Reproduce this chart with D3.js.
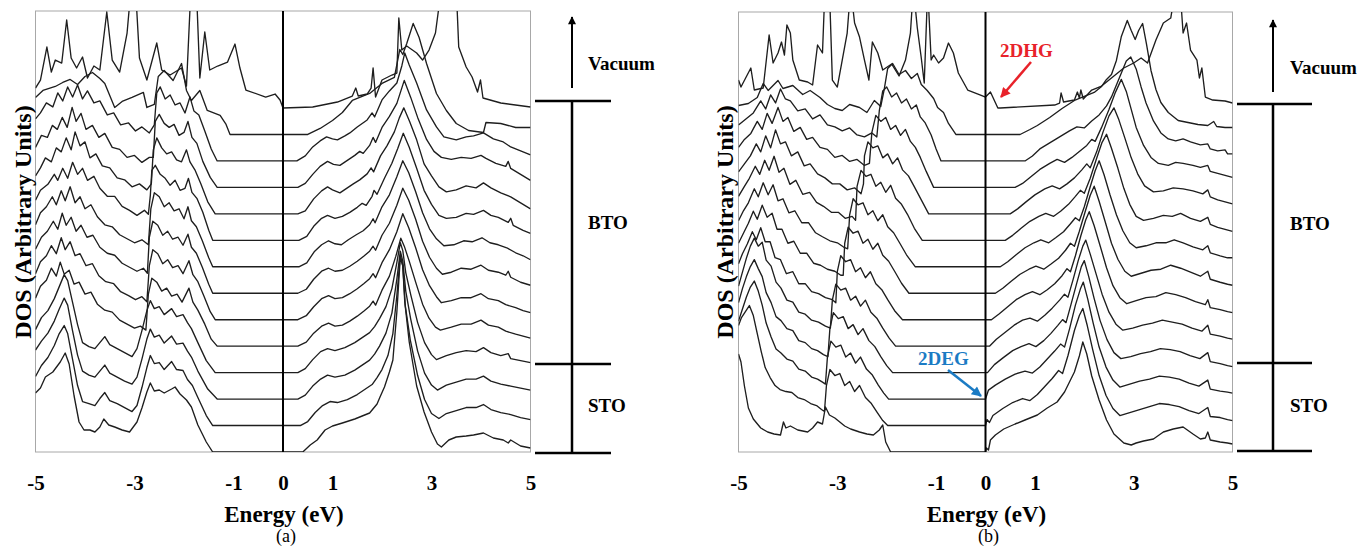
<!DOCTYPE html>
<html><head><meta charset="utf-8">
<script src="https://cdn.jsdelivr.net/npm/d3@7"></script>
<style>body{margin:0;background:#fff}svg{display:block}</style>
</head><body><svg id="c" width="1360" height="548"></svg>
<script>
// ---------------- DATA ----------------
const energyTicks = [-5, -3, -1, 0, 1, 3, 5];
const layerNames = ["Vacuum", "BTO", "STO"];
const panelNames = ["(a)", "(b)"];
const xTitle = "Energy (eV)";
const yTitle = "DOS (Arbitrary Units)";
const layerStep = 26.46;          // DOS offset between successive layers
const annotHole = "2DHG", annotElec = "2DEG";

// Panel (a): [energy eV, DOS] for each layer, top (vacuum) to bottom (STO)
const a0 = [[-5,20],[-4.9,28],[-4.77,61],[-4.68,36],[-4.6,48],[-4.47,45],[-4.37,88],[-4.28,50],[-4.17,40],[-4.05,51],[-3.95,30],[-3.82,42],[-3.7,38],[-3.56,96],[-3.45,48],[-3.3,36],[-3.15,75],[-3.07,120],[-2.98,120],[-2.9,50],[-2.75,28],[-2.55,65],[-2.45,38],[-2.28,33],[-2.05,40],[-1.95,22],[-1.86,120],[-1.75,120],[-1.68,30],[-1.58,76],[-1.48,38],[-1.32,42],[-1.12,46],[-0.97,64],[-0.87,40],[-0.75,18],[-0.35,11],[-0.16,14],[-0.06,8],[0,0],
 [0.6,1],[1.1,6],[1.4,12],[1.47,20],[1.52,12],[1.7,14],[1.78,20],[1.82,40],[1.87,11],[2.0,28],[2.2,33],[2.3,35],[2.34,90],[2.4,58],[2.5,62],[2.7,55],[2.82,48],[2.95,58],[3.08,75],[3.2,120],[3.5,120],[3.55,61],[3.7,41],[3.82,31],[3.93,16],[3.99,28],[4.04,10],[4.4,5],[5,1]];
const a1 = [[-5,37],[-4.85,44],[-4.6,48],[-4.45,52],[-4.3,55],[-4.15,50],[-4.0,58],[-3.85,62],[-3.7,56],[-3.6,51],[-3.4,27],[-3.25,33],[-3.05,37],[-2.82,42],[-2.75,27],[-2.6,30],[-2.52,58],[-2.4,64],[-2.22,54],[-2.05,71],[-1.95,44],[-1.85,34],[-1.68,44],[-1.53,24],[-1.27,19],[-1.15,10],[-1.07,0],
 [0.5,0],[0.75,6],[1.0,14],[1.2,22],[1.4,34],[1.6,38],[1.75,41],[2.0,51],[2.25,57],[2.36,85],[2.42,80],[2.5,91],[2.63,111],[2.75,97],[2.9,71],[3.1,41],[3.3,24],[3.5,11],[3.75,4],[4.05,2],[4.1,12],[4.4,11],[4.7,7],[5,7]];
const a2 = [[-5,42],[-4.9,48],[-4.78,58],[-4.65,54],[-4.55,68],[-4.45,60],[-4.35,74],[-4.25,64],[-4.15,76],[-4.05,62],[-3.95,70],[-3.82,58],[-3.7,60],[-3.55,46],[-3.42,48],[-3.28,36],[-3.12,38],[-2.98,30],[-2.85,34],[-2.7,28],[-2.6,36],[-2.55,68],[-2.48,74],[-2.38,62],[-2.28,66],[-2.18,56],[-2.08,58],[-1.98,48],[-1.88,64],[-1.8,50],[-1.7,46],[-1.58,30],[-1.45,12],[-1.33,0],
 [0.28,0],[0.45,5],[0.6,14],[0.75,20],[0.88,24],[1.0,22],[1.1,21],[1.25,25],[1.35,28],[1.5,34],[1.7,41],[1.8,48],[1.85,44],[2.0,61],[2.15,70],[2.3,78],[2.4,95],[2.46,108],[2.55,96],[2.7,78],[2.9,51],[3.1,34],[3.25,24],[3.5,21],[3.7,24],[3.85,25],[4.05,28],[4.25,22],[4.45,19],[4.6,14],[4.8,10],[5,6]];
const a3 = [[-5,40],[-4.88,52],[-4.76,50],[-4.66,62],[-4.56,58],[-4.46,70],[-4.36,60],[-4.26,80],[-4.18,66],[-4.08,74],[-3.98,58],[-3.85,62],[-3.72,50],[-3.6,54],[-3.45,40],[-3.3,38],[-3.15,30],[-3.0,32],[-2.85,25],[-2.7,30],[-2.62,30],[-2.58,66],[-2.5,73],[-2.4,64],[-2.3,60],[-2.2,63],[-2.1,52],[-2.0,55],[-1.92,66],[-1.84,50],[-1.74,44],[-1.62,26],[-1.47,10],[-1.33,0],
 [0.3,0],[0.45,4],[0.6,13],[0.75,21],[0.9,26],[1.02,23],[1.15,22],[1.3,27],[1.45,32],[1.55,36],[1.62,34],[1.75,42],[1.82,50],[1.87,45],[2.0,60],[2.15,71],[2.3,84],[2.45,107],[2.58,90],[2.72,70],[2.9,48],[3.05,36],[3.2,30],[3.4,28],[3.6,30],[3.8,29],[4.0,32],[4.1,29],[4.3,24],[4.5,21],[4.55,26],[4.6,19],[4.8,13],[5,7]];
const a4 = [[-5,38],[-4.9,46],[-4.8,56],[-4.68,52],[-4.58,66],[-4.48,62],[-4.38,76],[-4.28,64],[-4.2,82],[-4.1,68],[-4.0,72],[-3.9,56],[-3.78,60],[-3.65,48],[-3.5,46],[-3.35,36],[-3.2,34],[-3.05,27],[-2.9,30],[-2.75,24],[-2.66,30],[-2.62,64],[-2.55,76],[-2.45,66],[-2.35,60],[-2.25,62],[-2.15,54],[-2.05,52],[-1.95,64],[-1.88,52],[-1.78,44],[-1.66,30],[-1.52,12],[-1.37,0],
 [0.3,0],[0.45,3],[0.62,15],[0.78,23],[0.9,27],[1.0,24],[1.15,21],[1.3,26],[1.42,30],[1.55,34],[1.7,40],[1.78,46],[1.83,42],[1.97,58],[2.1,68],[2.25,82],[2.35,96],[2.44,106],[2.56,92],[2.7,74],[2.85,50],[3.0,38],[3.15,27],[3.3,22],[3.5,24],[3.7,28],[3.9,26],[4.05,31],[4.2,26],[4.4,21],[4.6,17],[4.8,11],[5,5]];
const a5 = [[-5,40],[-4.9,50],[-4.75,56],[-4.62,66],[-4.55,60],[-4.45,72],[-4.35,62],[-4.25,78],[-4.15,66],[-4.05,72],[-3.95,60],[-3.82,64],[-3.7,52],[-3.55,44],[-3.4,44],[-3.25,34],[-3.1,30],[-2.95,25],[-2.8,30],[-2.72,26],[-2.68,45],[-2.65,70],[-2.58,75],[-2.48,66],[-2.38,62],[-2.28,55],[-2.18,60],[-2.08,50],[-1.98,52],[-1.91,62],[-1.84,48],[-1.74,42],[-1.62,28],[-1.5,10],[-1.42,0],
 [0.32,0],[0.48,4],[0.62,14],[0.78,22],[0.9,25],[1.05,22],[1.2,24],[1.35,28],[1.5,33],[1.6,37],[1.68,35],[1.8,44],[1.84,50],[1.9,46],[2.05,62],[2.2,77],[2.32,92],[2.43,107],[2.55,93],[2.7,72],[2.85,50],[3.0,36],[3.15,25],[3.3,22],[3.5,23],[3.7,27],[3.85,26],[4.05,30],[4.2,25],[4.35,23],[4.55,18],[4.6,22],[4.65,15],[4.85,10],[5,7]];
const a6 = [[-5,42],[-4.9,54],[-4.78,60],[-4.66,70],[-4.58,62],[-4.48,76],[-4.4,66],[-4.3,80],[-4.2,64],[-4.1,70],[-4.0,58],[-3.88,62],[-3.75,50],[-3.6,42],[-3.45,40],[-3.3,32],[-3.15,28],[-3.0,24],[-2.85,27],[-2.72,22],[-2.67,58],[-2.6,74],[-2.5,70],[-2.4,60],[-2.3,64],[-2.2,56],[-2.1,58],[-2.0,48],[-1.92,60],[-1.85,46],[-1.75,40],[-1.63,26],[-1.5,9],[-1.42,0],
 [0.32,0],[0.48,4],[0.63,15],[0.78,22],[0.92,26],[1.05,23],[1.18,22],[1.32,27],[1.48,32],[1.62,36],[1.75,42],[1.82,48],[1.86,44],[2.0,60],[2.15,72],[2.3,90],[2.42,106],[2.54,94],[2.68,75],[2.82,54],[2.96,38],[3.1,28],[3.25,21],[3.45,22],[3.65,26],[3.82,25],[4.02,29],[4.18,24],[4.35,22],[4.52,19],[4.7,14],[4.85,11],[5,7]];
const a7 = [[-5,44],[-4.88,56],[-4.76,62],[-4.64,72],[-4.55,64],[-4.46,80],[-4.38,68],[-4.28,76],[-4.18,62],[-4.08,68],[-3.96,56],[-3.84,58],[-3.7,46],[-3.55,40],[-3.4,38],[-3.25,30],[-3.1,26],[-2.95,22],[-2.82,25],[-2.74,20],[-2.7,56],[-2.63,72],[-2.53,68],[-2.43,58],[-2.33,62],[-2.23,54],[-2.12,56],[-2.02,48],[-1.92,59],[-1.85,46],[-1.75,40],[-1.63,26],[-1.5,9],[-1.42,0],
 [0.3,0],[0.47,4],[0.62,14],[0.78,22],[0.92,25],[1.05,22],[1.2,23],[1.35,27],[1.5,32],[1.63,37],[1.75,42],[1.82,47],[1.87,43],[2.0,58],[2.15,70],[2.3,88],[2.42,105],[2.54,93],[2.68,74],[2.82,52],[2.96,36],[3.1,25],[3.22,19],[3.4,21],[3.6,25],[3.8,24],[4.0,28],[4.15,23],[4.35,21],[4.5,18],[4.55,22],[4.6,16],[4.8,11],[5,8]];
const a8 = [[-5,46],[-4.9,58],[-4.78,64],[-4.68,74],[-4.58,66],[-4.48,82],[-4.4,70],[-4.3,78],[-4.2,64],[-4.1,66],[-3.98,54],[-3.85,56],[-3.72,44],[-3.58,38],[-3.42,36],[-3.28,28],[-3.12,24],[-2.98,20],[-2.85,23],[-2.75,18],[-2.7,54],[-2.63,70],[-2.53,66],[-2.43,56],[-2.33,60],[-2.23,52],[-2.12,54],[-2.02,46],[-1.9,59],[-1.82,45],[-1.72,38],[-1.6,24],[-1.47,8],[-1.37,0],
 [0.3,0],[0.47,4],[0.62,13],[0.78,21],[0.92,24],[1.05,21],[1.2,22],[1.35,26],[1.5,31],[1.63,36],[1.75,41],[1.82,46],[1.87,42],[2.0,57],[2.15,70],[2.3,88],[2.42,106],[2.54,92],[2.68,72],[2.82,50],[2.96,34],[3.1,23],[3.2,17],[3.4,19],[3.6,22],[3.8,22],[4.0,26],[4.15,21],[4.35,19],[4.5,15],[4.7,12],[4.85,9],[5,7]];
const a9 = [[-5,48],[-4.9,60],[-4.78,66],[-4.68,78],[-4.58,70],[-4.5,84],[-4.42,72],[-4.32,76],[-4.22,62],[-4.12,64],[-4.0,52],[-3.88,54],[-3.75,42],[-3.6,36],[-3.45,34],[-3.3,26],[-3.15,22],[-3.0,18],[-2.88,20],[-2.77,16],[-2.72,52],[-2.65,68],[-2.55,64],[-2.45,55],[-2.35,58],[-2.25,50],[-2.14,52],[-2.04,44],[-1.9,58],[-1.82,44],[-1.72,36],[-1.58,22],[-1.45,7],[-1.33,0],
 [0.3,0],[0.47,4],[0.62,13],[0.78,20],[0.92,23],[1.05,20],[1.2,21],[1.35,25],[1.5,30],[1.63,35],[1.75,40],[1.82,45],[1.87,41],[2.0,56],[2.15,70],[2.28,90],[2.38,108],[2.45,100],[2.55,85],[2.68,64],[2.82,42],[2.95,28],[3.08,19],[3.18,16],[3.4,19],[3.6,22],[3.8,22],[4.0,26],[4.15,21],[4.35,19],[4.5,15],[4.7,12],[4.85,10],[5,8]];
const a10 = [[-5,43],[-4.88,55],[-4.75,62],[-4.62,74],[-4.52,86],[-4.42,98],[-4.35,92],[-4.25,70],[-4.15,48],[-4.05,30],[-3.92,26],[-3.8,24],[-3.7,30],[-3.6,36],[-3.5,28],[-3.35,24],[-3.2,20],[-3.05,16],[-2.95,24],[-2.85,42],[-2.75,62],[-2.68,72],[-2.6,64],[-2.5,66],[-2.4,58],[-2.25,64],[-2.15,56],[-2.02,58],[-1.93,50],[-1.85,44],[-1.72,30],[-1.55,12],[-1.37,0],
 [0.3,0],[0.45,4],[0.6,13],[0.76,21],[0.9,24],[1.05,22],[1.25,25],[1.45,30],[1.6,35],[1.75,40],[1.85,46],[1.95,54],[2.08,66],[2.2,84],[2.3,110],[2.37,130],[2.42,122],[2.48,100],[2.58,78],[2.72,50],[2.86,30],[3.0,18],[3.1,13],[3.3,17],[3.5,20],[3.7,22],[3.9,21],[4.05,25],[4.2,20],[4.4,17],[4.55,19],[4.6,14],[4.8,12],[5,10]];
const a11 = [[-5,49],[-4.88,58],[-4.75,66],[-4.62,78],[-4.52,90],[-4.42,101],[-4.35,94],[-4.25,68],[-4.15,44],[-4.05,28],[-3.92,24],[-3.8,22],[-3.7,28],[-3.6,34],[-3.5,26],[-3.35,22],[-3.2,18],[-3.05,15],[-2.95,22],[-2.85,40],[-2.75,60],[-2.68,70],[-2.6,62],[-2.5,64],[-2.4,56],[-2.25,63],[-2.15,55],[-2.02,56],[-1.93,48],[-1.85,42],[-1.72,28],[-1.52,10],[-1.33,0],
 [0.3,0],[0.45,4],[0.6,13],[0.76,20],[0.9,24],[1.05,22],[1.25,24],[1.45,29],[1.6,34],[1.75,39],[1.85,45],[1.95,53],[2.08,66],[2.2,86],[2.3,120],[2.37,148],[2.42,138],[2.48,108],[2.58,80],[2.72,48],[2.86,26],[3.0,14],[3.12,9],[3.3,14],[3.5,17],[3.7,20],[3.9,20],[4.05,23],[4.2,18],[4.4,15],[4.6,13],[4.8,11],[5,9]];
const a12 = [[-5,49],[-4.88,60],[-4.75,68],[-4.62,80],[-4.52,92],[-4.42,100],[-4.35,92],[-4.25,66],[-4.15,40],[-4.05,24],[-3.92,22],[-3.8,20],[-3.7,27],[-3.6,33],[-3.5,25],[-3.35,22],[-3.2,18],[-3.05,14],[-2.95,20],[-2.85,38],[-2.75,58],[-2.68,70],[-2.6,62],[-2.5,63],[-2.4,56],[-2.25,64],[-2.15,56],[-2.02,55],[-1.93,46],[-1.83,40],[-1.72,28],[-1.55,10],[-1.42,0],
 [0.35,0],[0.5,4],[0.65,13],[0.8,20],[0.95,24],[1.1,23],[1.3,26],[1.5,31],[1.65,36],[1.8,41],[1.9,48],[2.0,56],[2.12,70],[2.22,92],[2.3,130],[2.37,170],[2.42,160],[2.47,120],[2.57,86],[2.72,50],[2.86,26],[3.0,12],[3.15,7],[3.3,12],[3.5,15],[3.7,18],[3.9,18],[4.05,21],[4.2,16],[4.4,13],[4.6,11],[4.8,8],[5,6]];
const a13 = [[-5,59],[-4.9,64],[-4.8,75],[-4.65,80],[-4.5,90],[-4.4,99],[-4.32,88],[-4.22,56],[-4.12,30],[-4.02,22],[-3.9,22],[-3.8,20],[-3.7,25],[-3.62,33],[-3.52,27],[-3.4,25],[-3.25,22],[-3.1,20],[-2.95,30],[-2.85,44],[-2.75,60],[-2.68,69],[-2.6,61],[-2.5,62],[-2.4,59],[-2.25,63],[-2.18,65],[-2.08,58],[-1.95,52],[-1.85,45],[-1.72,27],[-1.55,10],[-1.42,0],
 [0.4,0],[0.55,7],[0.69,12],[0.85,22],[1.0,26],[1.2,29],[1.45,33],[1.6,36],[1.75,39],[1.9,48],[1.96,55],[2.05,65],[2.15,80],[2.22,92],[2.3,140],[2.37,195],[2.42,186],[2.46,150],[2.55,110],[2.7,66],[2.85,40],[3.0,20],[3.12,8],[3.2,5],[3.35,12],[3.5,15],[3.7,16],[3.85,17],[4.05,19],[4.25,14],[4.45,12],[4.55,9],[4.6,12],[4.8,6],[5,4]];

// Panel (b)
const b0 = [[-5,28],[-4.95,21],[-4.75,40],[-4.68,18],[-4.5,20],[-4.38,73],[-4.3,45],[-4.2,55],[-4.13,66],[-4.07,53],[-4.02,83],[-3.95,75],[-3.9,48],[-3.77,28],[-3.6,26],[-3.5,23],[-3.4,63],[-3.3,55],[-3.25,120],[-3.16,120],[-3.1,28],[-3.0,21],[-2.9,48],[-2.8,75],[-2.73,120],[-2.65,85],[-2.55,71],[-2.45,48],[-2.36,28],[-2.29,66],[-2.18,55],[-2.08,38],[-1.9,44],[-1.75,32],[-1.62,48],[-1.52,75],[-1.46,120],[-1.38,80],[-1.3,50],[-1.24,25],[-1.17,120],[-1.1,48],[-1.05,53],[-0.95,45],[-0.85,50],[-0.75,65],[-0.65,55],[-0.55,35],[-0.36,18],[-0.1,13],[0,11],[0.1,16],[0.25,0],
 [0.3,0],[1.4,3],[1.5,5],[1.53,15],[1.58,6],[1.8,8],[1.86,16],[1.9,10],[1.93,18],[1.98,9],[2.15,18],[2.35,22],[2.55,30],[2.8,40],[3.0,45],[3.15,50],[3.28,45],[3.45,68],[3.6,85],[3.75,90],[3.85,120],[3.95,110],[4.0,75],[4.07,85],[4.15,58],[4.28,48],[4.33,30],[4.38,40],[4.45,11],[4.6,8],[4.85,7],[5,5]];
const b1 = [[-5,29],[-4.8,31],[-4.62,37],[-4.5,51],[-4.4,44],[-4.2,54],[-4.1,46],[-3.9,49],[-3.7,40],[-3.55,44],[-3.35,37],[-3.2,30],[-3.05,26],[-2.9,24],[-2.75,30],[-2.55,27],[-2.4,22],[-2.25,34],[-2.12,28],[-2.05,45],[-1.98,66],[-1.88,71],[-1.75,60],[-1.62,64],[-1.5,56],[-1.38,61],[-1.3,50],[-1.18,44],[-1.05,36],[-0.97,27],[-0.85,22],[-0.75,11],[-0.6,0],
 [0.7,0],[0.9,5],[1.05,9],[1.3,17],[1.55,26],[1.8,34],[2.0,38],[2.2,42],[2.35,48],[2.45,55],[2.55,60],[2.65,74],[2.75,98],[2.87,114],[2.95,104],[3.03,95],[3.1,104],[3.18,111],[3.26,90],[3.35,64],[3.45,45],[3.55,32],[3.7,22],[3.9,14],[4.1,12],[4.3,10],[4.5,9],[4.62,13],[4.68,8],[4.85,7],[5,7]];
const b2 = [[-5,36],[-4.85,42],[-4.7,48],[-4.55,60],[-4.45,52],[-4.35,66],[-4.25,58],[-4.15,72],[-4.05,62],[-3.95,60],[-3.8,50],[-3.65,52],[-3.5,42],[-3.35,46],[-3.2,36],[-3.05,34],[-2.9,30],[-2.75,33],[-2.6,26],[-2.45,24],[-2.3,28],[-2.2,24],[-2.15,50],[-2.08,70],[-2.0,74],[-1.9,64],[-1.8,68],[-1.7,58],[-1.6,62],[-1.5,52],[-1.4,56],[-1.32,44],[-1.22,38],[-1.1,26],[-1.0,12],[-0.9,0],
 [0.8,0],[0.95,5],[1.1,12],[1.3,18],[1.5,24],[1.7,30],[1.85,34],[2.0,33],[2.15,40],[2.3,46],[2.45,55],[2.55,64],[2.65,76],[2.75,88],[2.85,100],[2.94,104],[3.05,92],[3.15,74],[3.25,58],[3.4,40],[3.55,28],[3.7,22],[3.85,20],[4.0,22],[4.15,19],[4.35,16],[4.5,17],[4.55,12],[4.7,10],[4.85,11],[4.9,7],[5,7]];
const b3 = [[-5,40],[-4.88,48],[-4.75,54],[-4.62,66],[-4.52,58],[-4.42,74],[-4.32,64],[-4.2,80],[-4.1,66],[-4.0,70],[-3.88,56],[-3.75,60],[-3.62,48],[-3.5,50],[-3.35,40],[-3.2,38],[-3.05,30],[-2.9,32],[-2.75,26],[-2.6,28],[-2.45,22],[-2.35,24],[-2.3,55],[-2.22,72],[-2.12,66],[-2.02,70],[-1.92,58],[-1.82,62],[-1.72,52],[-1.62,58],[-1.52,46],[-1.42,40],[-1.32,30],[-1.2,16],[-1.05,0],
 [0.6,0],[0.75,4],[0.9,10],[1.1,18],[1.3,24],[1.45,28],[1.6,25],[1.75,30],[1.9,36],[2.05,42],[2.15,48],[2.22,46],[2.35,60],[2.5,78],[2.62,94],[2.75,108],[2.85,96],[2.95,78],[3.05,60],[3.2,42],[3.35,30],[3.5,24],[3.7,22],[3.85,25],[4.0,24],[4.2,22],[4.35,20],[4.5,22],[4.55,16],[4.7,14],[4.85,12],[5,10]];
const b4 = [[-5,42],[-4.88,50],[-4.76,58],[-4.64,70],[-4.55,62],[-4.45,78],[-4.35,66],[-4.25,84],[-4.15,70],[-4.05,72],[-3.93,58],[-3.8,62],[-3.67,48],[-3.55,50],[-3.4,40],[-3.25,36],[-3.1,30],[-2.95,30],[-2.8,24],[-2.65,26],[-2.52,20],[-2.47,30],[-2.45,58],[-2.38,72],[-2.28,66],[-2.18,68],[-2.08,56],[-1.98,60],[-1.88,50],[-1.78,56],[-1.68,44],[-1.56,38],[-1.45,28],[-1.3,14],[-1.15,0],
 [0.5,0],[0.65,5],[0.82,12],[1.0,19],[1.2,25],[1.35,28],[1.5,25],[1.65,30],[1.8,36],[1.95,44],[2.05,50],[2.12,46],[2.25,62],[2.38,82],[2.5,98],[2.6,106],[2.7,94],[2.82,76],[2.95,56],[3.08,40],[3.22,28],[3.4,22],[3.6,23],[3.8,26],[4.0,25],[4.2,23],[4.4,20],[4.5,24],[4.55,17],[4.7,14],[4.85,12],[5,10]];
const b5 = [[-5,44],[-4.88,54],[-4.78,62],[-4.66,74],[-4.57,66],[-4.47,80],[-4.38,70],[-4.28,84],[-4.18,68],[-4.08,72],[-3.96,56],[-3.84,60],[-3.7,46],[-3.56,48],[-3.42,38],[-3.28,34],[-3.12,28],[-2.98,28],[-2.84,22],[-2.7,24],[-2.63,20],[-2.6,54],[-2.52,70],[-2.42,64],[-2.32,66],[-2.22,54],[-2.12,58],[-2.02,48],[-1.92,55],[-1.82,42],[-1.7,36],[-1.58,26],[-1.44,12],[-1.28,0],
 [0.4,0],[0.55,5],[0.72,12],[0.9,19],[1.08,24],[1.22,27],[1.38,24],[1.52,29],[1.68,36],[1.82,44],[1.92,50],[2.0,47],[2.12,62],[2.25,82],[2.36,98],[2.45,106],[2.55,92],[2.68,72],[2.8,52],[2.92,36],[3.05,24],[3.2,20],[3.4,22],[3.6,25],[3.78,24],[3.95,27],[4.15,22],[4.35,19],[4.5,23],[4.55,16],[4.7,13],[4.85,11],[5,9]];
const b6 = [[-5,46],[-4.9,56],[-4.8,64],[-4.68,78],[-4.6,70],[-4.5,84],[-4.4,72],[-4.3,82],[-4.2,66],[-4.1,68],[-3.98,54],[-3.86,56],[-3.72,44],[-3.58,44],[-3.44,34],[-3.3,30],[-3.15,26],[-3.0,24],[-2.88,20],[-2.79,18],[-2.75,52],[-2.68,68],[-2.58,62],[-2.48,64],[-2.38,52],[-2.28,56],[-2.18,46],[-2.08,52],[-1.98,40],[-1.86,34],[-1.74,24],[-1.6,12],[-1.42,0],
 [0.3,0],[0.45,5],[0.62,12],[0.8,19],[0.98,24],[1.12,27],[1.28,24],[1.42,29],[1.58,35],[1.72,43],[1.82,49],[1.9,46],[2.0,60],[2.12,80],[2.22,96],[2.3,106],[2.4,92],[2.52,72],[2.65,52],[2.78,36],[2.92,24],[3.05,19],[3.25,21],[3.45,24],[3.65,24],[3.82,27],[4.0,24],[4.2,20],[4.4,17],[4.5,21],[4.55,14],[4.75,11],[4.9,9],[5,9]];
const b7 = [[-5,50],[-4.9,60],[-4.8,70],[-4.7,82],[-4.62,74],[-4.52,88],[-4.42,76],[-4.32,80],[-4.22,64],[-4.12,64],[-4.0,50],[-3.88,52],[-3.75,40],[-3.62,40],[-3.48,30],[-3.34,28],[-3.2,24],[-3.05,22],[-2.93,18],[-2.88,18],[-2.85,50],[-2.78,66],[-2.68,60],[-2.58,62],[-2.48,50],[-2.38,54],[-2.28,44],[-2.18,50],[-2.08,38],[-1.96,32],[-1.84,22],[-1.7,10],[-1.55,0],
 [0.2,0],[0.35,5],[0.52,12],[0.7,19],[0.88,24],[1.02,27],[1.18,24],[1.32,29],[1.48,35],[1.62,43],[1.72,50],[1.8,47],[1.9,62],[2.02,82],[2.12,98],[2.2,107],[2.3,92],[2.42,72],[2.55,50],[2.68,34],[2.82,22],[2.95,17],[3.15,20],[3.35,23],[3.55,24],[3.75,28],[3.95,25],[4.15,21],[4.35,17],[4.5,22],[4.55,14],[4.75,11],[4.9,9],[5,8]];
const b8 = [[-5,56],[-4.92,66],[-4.82,76],[-4.72,88],[-4.64,80],[-4.55,92],[-4.46,78],[-4.36,78],[-4.26,62],[-4.15,60],[-4.03,46],[-3.9,48],[-3.78,36],[-3.65,36],[-3.52,28],[-3.38,26],[-3.24,22],[-3.1,20],[-3.03,17],[-3.0,48],[-2.93,64],[-2.83,58],[-2.73,60],[-2.63,48],[-2.53,52],[-2.43,42],[-2.33,48],[-2.22,36],[-2.1,30],[-1.98,20],[-1.84,9],[-1.68,0],
 [0.12,0],[0.28,6],[0.45,13],[0.62,20],[0.8,25],[0.95,28],[1.1,25],[1.25,30],[1.4,36],[1.55,44],[1.65,51],[1.72,48],[1.82,64],[1.93,84],[2.03,100],[2.1,108],[2.2,94],[2.32,74],[2.45,52],[2.58,34],[2.72,22],[2.86,16],[3.05,19],[3.25,22],[3.45,23],[3.65,27],[3.85,25],[4.05,22],[4.25,18],[4.45,15],[4.5,20],[4.55,12],[4.75,10],[4.9,8],[5,7]];
const b9 = [[-5,60],[-4.92,74],[-4.84,88],[-4.76,100],[-4.68,108],[-4.6,100],[-4.52,104],[-4.44,86],[-4.34,80],[-4.24,64],[-4.14,58],[-4.02,46],[-3.9,44],[-3.78,34],[-3.65,32],[-3.52,26],[-3.38,24],[-3.24,20],[-3.14,18],[-3.1,46],[-3.03,62],[-2.93,56],[-2.83,58],[-2.73,46],[-2.63,50],[-2.53,40],[-2.43,46],[-2.32,34],[-2.2,28],[-2.08,18],[-1.95,8],[-1.82,0],
 [0.08,0],[0.22,7],[0.4,14],[0.58,21],[0.75,26],[0.9,28],[1.05,25],[1.2,31],[1.35,38],[1.5,46],[1.6,52],[1.67,49],[1.77,66],[1.88,86],[1.97,100],[2.03,106],[2.12,92],[2.24,72],[2.36,52],[2.5,34],[2.64,22],[2.78,16],[2.98,18],[3.18,21],[3.38,23],[3.58,26],[3.78,24],[3.98,22],[4.18,18],[4.38,15],[4.5,21],[4.55,12],[4.75,10],[4.9,8],[5,7]];
const b10 = [[-5,70],[-4.92,84],[-4.84,96],[-4.76,106],[-4.68,113],[-4.6,104],[-4.52,96],[-4.44,80],[-4.34,70],[-4.24,56],[-4.14,52],[-4.02,44],[-3.9,42],[-3.78,32],[-3.65,30],[-3.52,24],[-3.4,22],[-3.28,18],[-3.19,16],[-3.15,44],[-3.08,60],[-2.98,54],[-2.88,56],[-2.78,44],[-2.68,48],[-2.58,38],[-2.48,44],[-2.36,32],[-2.24,26],[-2.12,16],[-2.0,7],[-1.88,0],
 [0.04,0],[0.18,8],[0.36,15],[0.55,22],[0.72,26],[0.88,29],[1.02,26],[1.18,32],[1.32,39],[1.46,47],[1.56,53],[1.63,50],[1.73,68],[1.85,90],[1.94,106],[2.0,112],[2.09,96],[2.2,74],[2.32,52],[2.46,33],[2.6,20],[2.74,14],[2.94,16],[3.14,19],[3.34,21],[3.54,24],[3.74,23],[3.94,21],[4.14,17],[4.34,14],[4.5,20],[4.55,11],[4.75,9],[4.9,7],[5,6]];
const b11 = [[-5,78],[-4.92,90],[-4.84,102],[-4.76,112],[-4.68,118],[-4.6,108],[-4.52,94],[-4.44,76],[-4.34,62],[-4.24,50],[-4.14,46],[-4.02,40],[-3.9,38],[-3.78,30],[-3.65,28],[-3.52,22],[-3.4,20],[-3.3,17],[-3.24,15],[-3.2,42],[-3.13,58],[-3.03,52],[-2.93,54],[-2.83,42],[-2.73,46],[-2.63,36],[-2.53,42],[-2.41,30],[-2.29,24],[-2.17,14],[-2.06,6],[-1.96,0],
 [0.0,0],[0.06,9],[0.2,14],[0.4,20],[0.6,25],[0.8,28],[0.95,26],[1.1,32],[1.25,40],[1.4,48],[1.52,55],[1.6,52],[1.7,70],[1.82,94],[1.92,110],[1.98,117],[2.07,100],[2.18,76],[2.3,52],[2.44,32],[2.58,19],[2.72,12],[2.92,15],[3.12,18],[3.32,20],[3.52,23],[3.72,22],[3.92,20],[4.12,16],[4.32,13],[4.5,19],[4.55,10],[4.75,8],[4.9,7],[5,6]];
const b12 = [[-5,100],[-4.94,108],[-4.86,114],[-4.78,120],[-4.7,110],[-4.62,92],[-4.54,74],[-4.46,58],[-4.36,48],[-4.26,40],[-4.16,36],[-4.04,34],[-3.92,33],[-3.8,28],[-3.67,26],[-3.54,22],[-3.42,20],[-3.32,16],[-3.26,14],[-3.22,40],[-3.15,56],[-3.05,50],[-2.95,52],[-2.85,40],[-2.75,44],[-2.65,34],[-2.55,40],[-2.43,28],[-2.31,22],[-2.19,13],[-2.08,5],[-1.98,0],
 [0.0,0],[0.03,6],[0.08,3],[0.15,10],[0.35,17],[0.55,23],[0.75,27],[0.9,25],[1.05,31],[1.2,39],[1.35,47],[1.48,55],[1.56,52],[1.67,70],[1.8,95],[1.9,110],[1.97,117],[2.06,100],[2.17,76],[2.3,50],[2.44,30],[2.58,17],[2.72,10],[2.92,13],[3.12,16],[3.32,19],[3.52,22],[3.72,21],[3.92,19],[4.12,15],[4.32,12],[4.5,18],[4.55,9],[4.75,8],[4.9,6],[5,5]];
const b13 = [[-5,98],[-4.95,90],[-4.88,66],[-4.8,44],[-4.7,33],[-4.55,24],[-4.41,20],[-4.28,18],[-4.15,17],[-4.09,30],[-4.04,24],[-3.95,26],[-3.8,22],[-3.6,20],[-3.5,24],[-3.4,30],[-3.3,28],[-3.24,45],[-3.16,37],[-3.05,34],[-2.95,30],[-2.85,26],[-2.73,23],[-2.55,20],[-2.4,18],[-2.27,17],[-2.15,22],[-2.08,27],[-2.02,10],[-1.96,4],[-1.92,0],
 [0.0,0],[0.02,4],[0.06,2],[0.1,12],[0.2,17],[0.37,23],[0.6,28],[0.8,32],[1.05,37],[1.25,44],[1.45,50],[1.6,60],[1.7,70],[1.8,80],[1.9,96],[1.97,110],[2.05,98],[2.15,76],[2.3,52],[2.45,32],[2.6,18],[2.8,9],[2.95,7],[3.05,9],[3.2,11],[3.4,13],[3.6,20],[3.8,23],[4.0,25],[4.2,18],[4.35,13],[4.45,14],[4.5,20],[4.55,12],[4.75,10],[4.9,9],[5,8]];

const layersA = [a0,a1,a2,a3,a4,a5,a6,a7,a8,a9,a10,a11,a12,a13];
const layersB = [b0,b1,b2,b3,b4,b5,b6,b7,b8,b9,b10,b11,b12,b13];

// ---------------- DRAW ----------------
const FONT = '"Liberation Serif","Times New Roman",Times,serif';
const svg = d3.select("#c");
const defs = svg.append("defs");
function marker(id, color, w, h) {
  defs.append("marker").attr("id", id).attr("viewBox", "0 0 10 10").attr("refX", 9).attr("refY", 5)
    .attr("markerWidth", w).attr("markerHeight", h).attr("orient", "auto").attr("markerUnits","userSpaceOnUse")
    .append("path").attr("d", "M0,0 L10,5 L0,10 z").attr("fill", color);
}
marker("mk", "#000", 10, 8);
marker("mr", "#e8222a", 12, 10);
marker("mb", "#1b7bc4", 12, 10);

const panels = [
  { layers: layersA, x0: 35.5, x1: 530.5, top: 11, bottom: 452, label: panelNames[0],
    yTitleX: 31, br: { x: 572, l: 535, r: 611, y: [101, 364, 453], arrow: [88, 17], tx: 588, ty: [70, 229, 412] } },
  { layers: layersB, x0: 738.5, x1: 1232.5, top: 12, bottom: 452, label: panelNames[1],
    yTitleX: 733, br: { x: 1273, l: 1237, r: 1312, y: [104, 363, 451], arrow: [92, 20], tx: 1290, ty: [74, 230, 412] } }
];

panels.forEach((p, pi) => {
  const g = svg.append("g");
  const x = d3.scaleLinear().domain([-5, 5]).range([p.x0, p.x1]);
  const y = d3.scaleLinear().domain([0, 441]).range([452, 11]);
  const nL = p.layers.length;
  const clipId = "clip" + pi;
  defs.append("clipPath").attr("id", clipId).append("rect")
    .attr("x", x(-5)).attr("y", p.top).attr("width", x(5) - x(-5)).attr("height", p.bottom - p.top);

  g.append("rect").attr("x", x(-5)).attr("y", p.top).attr("width", x(5) - x(-5)).attr("height", p.bottom - p.top)
    .attr("fill", "none").attr("stroke", "#a8a8a8").attr("stroke-width", 1);

  const cg = g.append("g").attr("clip-path", `url(#${clipId})`);
  p.layers.forEach((pts, i) => {
    const off = (nL - 1 - i) * layerStep;
    const line = d3.line().x(d => x(d[0])).y(d => y(d[1] + off));
    cg.append("path").attr("d", line(pts)).attr("fill", "none")
      .attr("stroke", "#1e1e1e").attr("stroke-width", 1.35).attr("stroke-linejoin", "round");
  });

  g.append("line").attr("x1", x(0)).attr("x2", x(0)).attr("y1", p.top).attr("y2", p.bottom)
    .attr("stroke", "#000").attr("stroke-width", 2);

  const ax = g.append("g").attr("transform", `translate(0,${p.bottom})`)
    .call(d3.axisBottom(x).tickValues(energyTicks).tickSize(0).tickPadding(23).tickFormat(d => String(d)));
  ax.select(".domain").remove();
  ax.selectAll("text").attr("font-family", FONT).attr("font-weight", "bold").attr("font-size", 21).attr("fill", "#000");

  g.append("text").attr("x", x(0) + 1).attr("y", 522).attr("text-anchor", "middle")
    .attr("font-family", FONT).attr("font-weight", "bold").attr("font-size", 23).text(xTitle);
  g.append("text").attr("x", x(0) + 3).attr("y", 542).attr("text-anchor", "middle")
    .attr("font-family", FONT).attr("font-size", 18).text(p.label);
  g.append("text").attr("transform", `translate(${p.yTitleX},222) rotate(-90)`).attr("text-anchor", "middle")
    .attr("font-family", FONT).attr("font-weight", "bold").attr("font-size", 24).text(yTitle);

  const b = p.br;
  const bg = g.append("g").attr("stroke", "#000").attr("stroke-width", 2.5);
  bg.append("line").attr("x1", b.x).attr("x2", b.x).attr("y1", b.y[0]).attr("y2", b.y[2]);
  b.y.forEach(v => bg.append("line").attr("x1", b.l).attr("x2", b.r).attr("y1", v).attr("y2", v));
  bg.append("line").attr("x1", b.x).attr("x2", b.x).attr("y1", b.arrow[0]).attr("y2", b.arrow[1])
    .attr("stroke-width", 2).attr("marker-end", "url(#mk)");
  layerNames.forEach((n, k) => {
    g.append("text").attr("x", b.tx).attr("y", b.ty[k]).attr("font-family", FONT)
      .attr("font-weight", "bold").attr("font-size", 19).text(n);
  });
});

svg.append("text").attr("x", 1000).attr("y", 57).attr("font-family", FONT).attr("font-weight", "bold")
  .attr("font-size", 19).attr("fill", "#e8222a").text(annotHole);
svg.append("line").attr("x1", 1031).attr("y1", 62).attr("x2", 1001).attr("y2", 97)
  .attr("stroke", "#e8222a").attr("stroke-width", 2.5).attr("marker-end", "url(#mr)");
svg.append("text").attr("x", 918).attr("y", 365).attr("font-family", FONT).attr("font-weight", "bold")
  .attr("font-size", 19).attr("fill", "#1b7bc4").text(annotElec);
svg.append("line").attr("x1", 948).attr("y1", 370).attr("x2", 981).attr("y2", 396)
  .attr("stroke", "#1b7bc4").attr("stroke-width", 2.5).attr("marker-end", "url(#mb)");
</script></body></html>
